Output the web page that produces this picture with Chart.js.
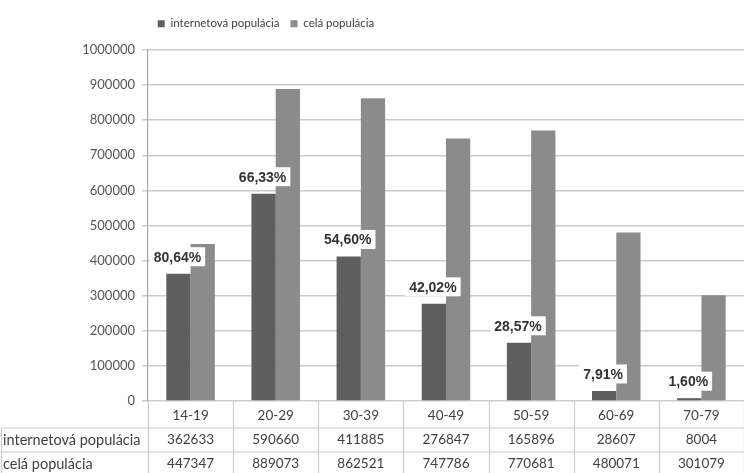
<!DOCTYPE html>
<html>
<head>
<meta charset="utf-8">
<script src="https://cdn.jsdelivr.net/npm/chart.js@4/dist/chart.umd.min.js"></script>
<style>
  html, body { margin: 0; padding: 0; background: #ffffff; }
  canvas { display: block; }
</style>
</head>
<body>
<canvas id="chart" width="744" height="473"></canvas>
<script>
// Age groups and population counts
const categories = ['14-19', '20-29', '30-39', '40-49', '50-59', '60-69', '70-79'];
const seriesNames = ['internetová populácia', 'celá populácia'];
const internetPopulation = [362633, 590660, 411885, 276847, 165896, 28607, 8004];
const totalPopulation = [447347, 889073, 862521, 747786, 770681, 480071, 301079];
const shareLabels = ['80,64%', '66,33%', '54,60%', '42,02%', '28,57%', '7,91%', '1,60%'];
const yMin = 0, yMax = 1000000, yStep = 100000;

const FONT = 'Lato, "Open Sans", sans-serif';
const DARK = '#5f5f5f';
const LIGHT = '#8b8b8b';
const GRID = '#cccccc';
const TEXT = '#3f3f3f';

// Legend box height and its horizontal centre
const LEGEND_HEIGHT = 43;
const LEGEND_CENTER = 266;

// Row label column width and table row heights
const Y_AXIS_WIDTH = 148;
const TABLE_ROWS = [27, 24, 24];

const legendPlacement = {
  id: 'legendPlacement',
  beforeLayout(chart) {
    const lg = chart.legend;
    if (lg && !lg._fixedHeight) {
      const fit = lg.fit;
      lg.fit = function () { fit.call(this); this.height = LEGEND_HEIGHT; };
      lg._fixedHeight = true;
    }
  },
  afterLayout(chart) {
    const lg = chart.legend;
    if (lg) {
      lg.left = 0;
      lg.right = LEGEND_CENTER * 2;
    }
  }
};

// Percentage boxes above each internet-population bar
const shareLabelPlugin = {
  id: 'shareLabels',
  afterDatasetsDraw(chart) {
    const ctx = chart.ctx;
    const meta = chart.getDatasetMeta(0);
    ctx.save();
    ctx.font = 'bold 14px "Liberation Sans", Arial, sans-serif';
    ctx.textAlign = 'center';
    ctx.textBaseline = 'middle';
    meta.data.forEach((bar, i) => {
      const text = shareLabels[i];
      const w = ctx.measureText(text).width + 8;
      const h = 19;
      const cx = bar.x - 1;
      const cy = bar.y - 17;
      ctx.fillStyle = '#ffffff';
      ctx.fillRect(cx - w / 2, cy - h / 2, w, h);
      ctx.fillStyle = '#333333';
      ctx.fillText(text, cx, cy + 1);
    });
    ctx.restore();
  }
};

// Data table under the plot
const dataTablePlugin = {
  id: 'dataTable',
  afterDraw(chart) {
    const { ctx, chartArea } = chart;
    const x = chart.scales.x;
    const top = chartArea.bottom;
    const colW = (chartArea.right - chartArea.left) / categories.length;
    const r1 = top + TABLE_ROWS[0];
    const r2 = r1 + TABLE_ROWS[1];
    const r3 = r2 + TABLE_ROWS[2];

    ctx.save();
    ctx.strokeStyle = GRID;
    ctx.lineWidth = 1.2;
    ctx.beginPath();
    // horizontal rules
    ctx.moveTo(1, r1); ctx.lineTo(chartArea.right, r1);
    ctx.moveTo(1, r2); ctx.lineTo(chartArea.right, r2);
    ctx.moveTo(1, r3); ctx.lineTo(chartArea.right, r3);
    // row label column left edge
    ctx.moveTo(1.5, r1); ctx.lineTo(1.5, r3);
    // column separators
    for (let i = 0; i <= categories.length; i++) {
      const xx = Math.round(chartArea.left + i * colW) + 0.5;
      ctx.moveTo(xx, top); ctx.lineTo(xx, r3);
    }
    ctx.stroke();

    ctx.fillStyle = TEXT;
    ctx.textBaseline = 'middle';
    ctx.textAlign = 'left';
    ctx.font = '14.5px ' + FONT;
    ctx.fillText(seriesNames[0], 3, (r1 + r2) / 2);
    ctx.fillText(seriesNames[1], 3, (r2 + r3) / 2);

    ctx.textAlign = 'center';
    ctx.font = '13.5px ' + FONT;
    categories.forEach((c, i) => {
      const cx = x.getPixelForValue(i);
      ctx.fillText(c, cx, (top + r1) / 2 + 1);
      ctx.fillText(String(internetPopulation[i]), cx, (r1 + r2) / 2);
      ctx.fillText(String(totalPopulation[i]), cx, (r2 + r3) / 2);
    });
    ctx.restore();
  }
};

new Chart(document.getElementById('chart'), {
  type: 'bar',
  data: {
    labels: categories,
    datasets: [
      { label: seriesNames[0], data: internetPopulation, backgroundColor: DARK, borderWidth: 0 },
      { label: seriesNames[1], data: totalPopulation, backgroundColor: LIGHT, borderWidth: 0 }
    ]
  },
  options: {
    responsive: false,
    animation: false,
    events: [],
    layout: { padding: { top: 7, right: 0, bottom: 0, left: 0 } },
    datasets: { bar: { categoryPercentage: 0.57, barPercentage: 1.0 } },
    plugins: {
      legend: {
        position: 'top',
        align: 'center',
        labels: {
          boxWidth: 7,
          boxHeight: 7,
          padding: 11,
          color: '#404040',
          font: { family: FONT, size: 11.5 }
        }
      },
      tooltip: { enabled: false }
    },
    scales: {
      x: {
        grid: { display: false },
        border: { display: false },
        ticks: { display: false },
        afterFit(scale) { scale.height = TABLE_ROWS[0] + TABLE_ROWS[1] + TABLE_ROWS[2] - 3; }
      },
      y: {
        min: yMin,
        max: yMax,
        ticks: {
          stepSize: yStep,
          padding: 7,
          color: '#555555',
          font: { family: FONT, size: 13 },
          callback: (v) => String(v)
        },
        grid: { color: GRID, lineWidth: 1.5, tickLength: 6 },
        border: { display: true, color: '#a8a8a8', width: 1.2 },
        afterFit(scale) { scale.width = Y_AXIS_WIDTH; }
      }
    }
  },
  plugins: [legendPlacement, shareLabelPlugin, dataTablePlugin]
});
</script>
</body>
</html>
